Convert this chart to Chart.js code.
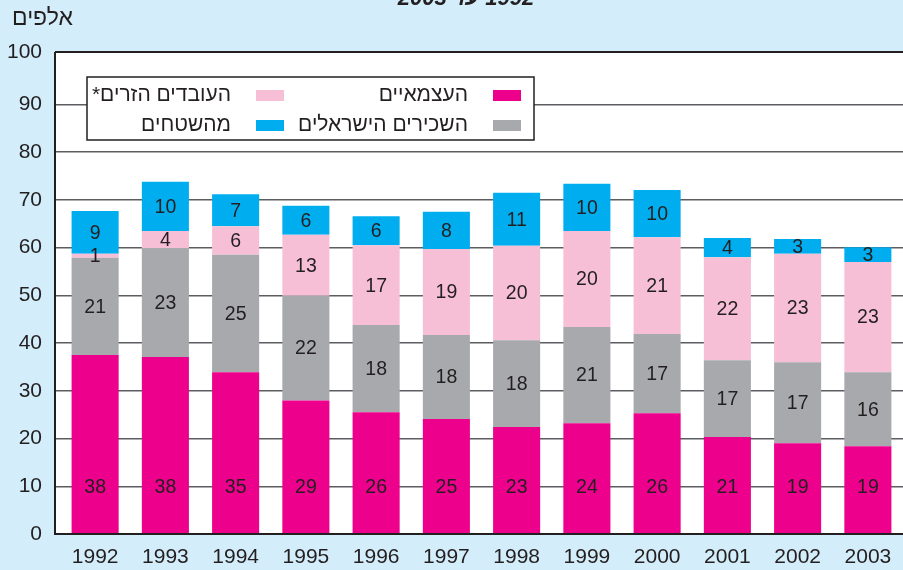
<!DOCTYPE html>
<html lang="he">
<head>
<meta charset="UTF-8" />
<title>מועסקים בענף הבנייה 1992 עד 2003</title>
<script src="https://cdn.jsdelivr.net/npm/chart.js"></script>
<style>
  html, body { margin: 0; padding: 0; background: #d3eefa; }
  #wrap { width: 903px; height: 570px; position: relative; }
</style>
</head>
<body>
<div id="wrap"><canvas id="chart" width="903" height="570"></canvas></div>
<script>
  // שנים
  const years = ['1992', '1993', '1994', '1995', '1996', '1997', '1998', '1999', '2000', '2001', '2002', '2003'];

  // גובה העמודות (אלפים) כפי שנקרא מהגרף
  const selfEmployed     = [37.5, 37.1, 33.9, 28.0, 25.5, 24.1, 22.4, 23.2, 25.3, 20.3, 19.0, 18.4];
  const israeliEmployees = [20.4, 22.8, 24.6, 21.9, 18.3, 17.6, 18.2, 20.2, 16.6, 16.1, 17.0, 15.5];
  const foreignWorkers   = [0.8, 3.6, 6.0, 12.8, 16.7, 18.0, 19.8, 20.1, 20.3, 21.6, 22.7, 23.1];
  const territories      = [9.0, 10.3, 6.7, 6.1, 6.1, 7.8, 11.1, 9.9, 9.9, 4.0, 3.1, 3.1];

  // המספרים שמודפסים על העמודות
  const selfEmployedLbl     = [38, 38, 35, 29, 26, 25, 23, 24, 26, 21, 19, 19];
  const israeliEmployeesLbl = [21, 23, 25, 22, 18, 18, 18, 21, 17, 17, 17, 16];
  const foreignWorkersLbl   = [1, 4, 6, 13, 17, 19, 20, 20, 21, 22, 23, 23];
  const territoriesLbl      = [9, 10, 7, 6, 6, 8, 11, 10, 10, 4, 3, 3];

  const yTicks = [0, 10, 20, 30, 40, 50, 60, 70, 80, 90, 100];
  const yTop = 101; // מסגרת הגרף מעט מעל 100

  const FONT = "'Liberation Sans', Arial, sans-serif";
  const INK = '#231f20';

  const seriesLabels = [selfEmployedLbl, israeliEmployeesLbl, foreignWorkersLbl, territoriesLbl];

  // רקע, ציר שמאלי, מספרים על העמודות, מקרא וכותרות
  const decor = {
    id: 'decor',
    beforeDraw(chart) {
      const { ctx, chartArea: a } = chart;
      ctx.save();
      ctx.fillStyle = '#d3eefa';
      ctx.fillRect(0, 0, chart.width, chart.height);
      ctx.fillStyle = '#ffffff';
      ctx.fillRect(a.left - 5, a.top, a.right - a.left + 5, a.bottom - a.top);
      ctx.restore();
    },
    afterDatasetsDraw(chart) {
      const { ctx } = chart;
      const y = chart.scales.y;
      ctx.save();
      ctx.font = '19.5px ' + FONT;
      ctx.fillStyle = INK;
      ctx.textAlign = 'center';
      ctx.textBaseline = 'middle';
      chart.data.datasets.forEach((ds, i) => {
        chart.getDatasetMeta(i).data.forEach((bar, j) => {
          const ty = i === 0 ? y.getPixelForValue(10) : (bar.y + bar.base) / 2;
          ctx.fillText(String(seriesLabels[i][j]), bar.x, ty + 1);
        });
      });
      ctx.restore();
    },
    afterDraw(chart) {
      const { ctx, chartArea: a } = chart;
      ctx.save();
      // ציר אנכי
      ctx.strokeStyle = INK;
      ctx.lineWidth = 2;
      ctx.beginPath();
      ctx.moveTo(a.left - 5, a.top);
      ctx.lineTo(a.left - 5, a.bottom + 1);
      ctx.stroke();

      // מקרא
      ctx.fillStyle = '#ffffff';
      ctx.fillRect(87, 77, 447, 63);
      ctx.lineWidth = 1.5;
      ctx.strokeRect(87, 77, 447, 63);
      const slots = [
        { ds: 0, sx: 493, cy: 95 },
        { ds: 2, sx: 256, cy: 95 },
        { ds: 1, sx: 493, cy: 125 },
        { ds: 3, sx: 256, cy: 125 }
      ];
      ctx.direction = 'rtl';
      ctx.font = '21px ' + FONT;
      ctx.textAlign = 'right';
      ctx.textBaseline = 'middle';
      slots.forEach(s => {
        const ds = chart.data.datasets[s.ds];
        ctx.fillStyle = ds.backgroundColor;
        ctx.fillRect(s.sx, s.cy - 5, 28, 11);
        ctx.fillStyle = INK;
        ctx.fillText(ds.label, s.sx - 25, s.cy);
      });

      // כותרת (חתוכה) ויחידות
      ctx.font = 'italic bold 22px ' + FONT;
      ctx.textAlign = 'center';
      ctx.textBaseline = 'alphabetic';
      ctx.fillText('1992 עד 2003', 466, 5);
      ctx.font = '23px ' + FONT;
      ctx.textAlign = 'left';
      ctx.fillText('אלפים', 12, 25);
      ctx.restore();
    }
  };

  new Chart(document.getElementById('chart'), {
    type: 'bar',
    data: {
      labels: years,
      datasets: [
        { label: 'העצמאיים', data: selfEmployed, backgroundColor: '#ec008c' },
        { label: 'השכירים הישראלים', data: israeliEmployees, backgroundColor: '#a7a9ac' },
        { label: 'העובדים הזרים*', data: foreignWorkers, backgroundColor: '#f7bfd6' },
        { label: 'מהשטחים', data: territories, backgroundColor: '#00aeef' }
      ]
    },
    options: {
      responsive: false,
      animation: false,
      devicePixelRatio: 1,
      events: [],
      layout: { padding: { top: 52, right: 0, bottom: 0, left: 0 } },
      datasets: { bar: { categoryPercentage: 1, barPercentage: 0.67, borderWidth: 0 } },
      plugins: { legend: { display: false }, tooltip: { enabled: false }, title: { display: false } },
      scales: {
        x: {
          stacked: true,
          grid: { display: false },
          border: { display: false },
          ticks: { font: { family: FONT, size: 21 }, color: INK, padding: 3, maxRotation: 0 },
          afterFit: s => { s.height = 36; }
        },
        y: {
          stacked: true,
          min: 0,
          max: yTop,
          afterBuildTicks: s => { s.ticks = yTicks.map(v => ({ value: v === 100 ? yTop : v })); },
          border: { display: false },
          grid: {
            tickLength: 5,
            color: c => (c.tick && (c.tick.value === 0 || c.tick.value === yTop)) ? INK : '#5c5d60',
            lineWidth: c => (c.tick && (c.tick.value === 0 || c.tick.value === yTop)) ? 2 : 1.5
          },
          ticks: {
            font: { family: FONT, size: 21 },
            color: INK,
            padding: 13,
            callback: v => (v >= 100 ? '100' : v)
          },
          afterFit: s => { s.width = 60; }
        }
      }
    },
    plugins: [decor]
  });
</script>
</body>
</html>
